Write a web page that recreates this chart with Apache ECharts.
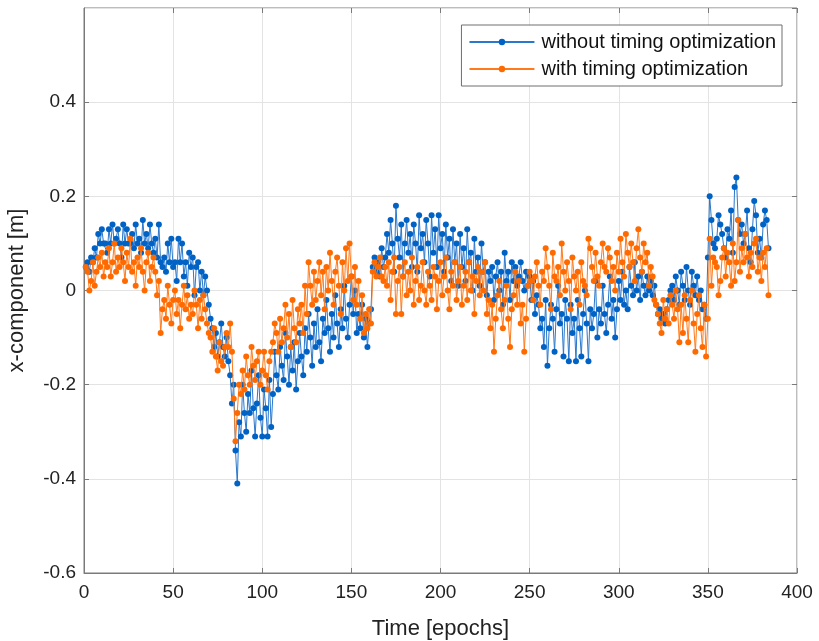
<!DOCTYPE html>
<html>
<head>
<meta charset="UTF-8">
<title>x-component timing</title>
<style>
  body { margin: 0; padding: 0; background: #fff; }
  #main { width: 819px; height: 641px; }
</style>
</head>
<body>
<div id="main"></div>
<script src="https://cdn.jsdelivr.net/npm/echarts@6/dist/echarts.min.js"></script>
<script>
// values, epochs 1..384
var withoutOpt = [
  0.05,0.06,0.04,0.07,0.06,0.09,0.07,0.12,0.10,0.13,
  0.10,0.10,0.08,0.13,0.10,0.14,0.10,0.11,0.13,0.10,
  0.07,0.14,0.10,0.13,0.10,0.10,0.12,0.09,0.14,0.10,
  0.11,0.08,0.15,0.10,0.12,0.09,0.14,0.10,0.08,0.11,
  0.07,0.14,0.06,0.05,0.07,0.04,0.10,0.06,0.11,0.05,
  0.06,0.02,0.11,0.06,0.10,0.03,0.06,0.01,0.08,0.05,
  0.07,-0.01,0.05,0.06,0.00,0.04,-0.01,0.03,0.00,-0.03,
  -0.06,-0.08,-0.12,-0.09,-0.14,-0.11,-0.07,-0.12,-0.14,-0.10,
  -0.15,-0.18,-0.24,-0.20,-0.34,-0.41,-0.28,-0.31,-0.20,-0.26,
  -0.30,-0.22,-0.26,-0.17,-0.25,-0.31,-0.24,-0.18,-0.27,-0.31,
  -0.21,-0.25,-0.31,-0.19,-0.29,-0.22,-0.13,-0.18,-0.21,-0.12,
  -0.16,-0.19,-0.09,-0.14,-0.20,-0.12,-0.17,-0.11,-0.21,-0.15,
  -0.09,-0.14,-0.18,-0.08,-0.13,-0.05,-0.10,-0.16,-0.07,-0.12,
  -0.04,-0.11,-0.15,-0.06,-0.09,-0.02,-0.08,-0.13,-0.05,-0.10,
  -0.01,-0.07,-0.12,-0.04,-0.08,0.01,-0.06,-0.10,-0.03,0.03,
  -0.05,0.00,-0.09,-0.05,-0.08,-0.03,-0.10,-0.06,-0.12,-0.07,
  -0.04,0.05,0.07,0.04,0.06,0.03,0.09,0.05,0.07,0.12,
  0.08,0.15,0.10,0.04,0.18,0.11,0.07,0.14,0.03,0.10,
  0.15,0.08,0.12,0.05,0.14,0.10,0.04,0.16,0.09,0.12,
  0.06,0.15,0.10,0.03,0.16,0.08,0.13,0.05,0.16,0.09,
  0.12,0.04,0.14,0.07,0.11,0.02,0.13,0.06,0.10,0.01,
  0.12,0.05,0.09,0.02,0.13,0.06,0.08,0.00,0.11,0.04,
  0.07,0.01,0.10,0.04,0.06,-0.01,0.04,0.02,0.05,-0.02,
  0.03,0.06,0.00,0.04,-0.03,0.08,0.02,0.04,-0.02,0.06,
  0.02,0.05,0.01,0.03,0.06,0.02,0.00,0.04,0.01,0.03,
  -0.02,0.02,-0.05,-0.01,-0.03,-0.08,-0.06,-0.12,-0.02,-0.16,
  -0.08,-0.03,-0.06,-0.13,-0.04,0.01,-0.07,-0.05,-0.14,-0.02,
  -0.06,-0.15,-0.03,-0.09,-0.06,-0.15,-0.02,-0.08,-0.14,-0.05,
  0.00,-0.07,-0.15,-0.04,-0.08,-0.05,0.02,-0.10,-0.04,-0.07,
  0.01,-0.05,-0.09,-0.03,0.03,-0.06,-0.02,-0.10,-0.04,0.02,
  -0.02,0.04,-0.03,0.00,-0.04,0.05,0.01,-0.01,0.06,0.00,
  0.03,-0.02,0.04,0.01,-0.01,0.03,0.00,0.02,-0.01,0.01,
  -0.03,-0.05,-0.04,-0.06,-0.05,-0.07,-0.04,-0.02,0.00,0.01,
  -0.02,0.03,0.00,-0.03,0.04,0.01,-0.02,0.05,0.00,-0.03,
  0.04,0.01,-0.01,0.03,-0.02,0.00,-0.04,-0.03,-0.06,0.07,
  0.20,0.15,0.10,0.09,0.11,0.16,0.14,0.12,0.09,0.07,
  0.13,0.11,0.17,0.08,0.22,0.24,0.15,0.12,0.14,0.10,
  0.12,0.17,0.09,0.06,0.13,0.19,0.16,0.08,0.11,0.07,
  0.14,0.17,0.15,0.09
];

var withOpt = [
  0.05,0.04,0.00,0.02,0.06,0.01,0.04,0.07,0.05,0.08,
  0.03,0.06,0.05,0.09,0.03,0.06,0.10,0.04,0.07,0.05,
  0.09,0.06,0.02,0.08,0.05,0.11,0.04,0.06,0.01,0.07,
  0.05,0.09,0.04,0.00,0.06,0.08,0.02,0.05,0.07,0.04,
  -0.01,0.02,-0.09,-0.04,-0.02,-0.06,0.01,-0.03,-0.07,-0.02,
  0.00,-0.05,-0.02,-0.08,-0.03,0.01,-0.04,-0.01,-0.06,-0.03,
  -0.05,0.00,-0.03,-0.08,-0.02,-0.06,-0.01,-0.04,-0.07,-0.09,
  -0.10,-0.13,-0.08,-0.14,-0.17,-0.11,-0.15,-0.16,-0.12,-0.09,
  -0.12,-0.07,-0.13,-0.23,-0.32,-0.26,-0.20,-0.22,-0.17,-0.21,
  -0.14,-0.18,-0.20,-0.12,-0.16,-0.19,-0.15,-0.13,-0.20,-0.17,
  -0.13,-0.18,-0.21,-0.15,-0.13,-0.11,-0.07,-0.09,-0.13,-0.06,
  -0.11,-0.08,-0.03,-0.10,-0.05,-0.12,-0.02,-0.08,-0.11,-0.04,
  -0.07,-0.03,-0.09,0.01,-0.05,0.06,0.01,-0.03,0.04,-0.02,
  0.02,0.06,-0.01,0.04,-0.04,0.05,0.00,0.08,0.02,-0.03,
  0.04,0.07,0.01,-0.05,0.06,0.00,0.09,0.02,0.10,0.03,
  -0.02,0.05,-0.03,0.02,-0.06,-0.01,-0.09,-0.05,-0.08,-0.04,
  -0.07,0.04,0.06,0.03,0.05,0.07,0.03,0.02,0.05,0.01,
  0.06,-0.02,0.04,0.07,-0.05,0.02,0.05,-0.05,0.03,0.06,
  -0.01,0.04,0.00,0.07,-0.03,0.02,0.05,-0.02,0.01,0.06,
  0.00,-0.03,0.04,0.01,-0.02,0.05,0.03,-0.04,0.02,0.06,
  -0.01,0.03,0.07,0.00,-0.04,0.04,0.01,0.06,-0.02,0.02,
  0.05,-0.03,0.01,0.04,-0.02,0.06,0.00,0.03,-0.05,0.02,
  0.05,-0.01,0.04,0.00,0.06,-0.05,-0.02,-0.08,-0.03,-0.13,
  -0.06,-0.01,0.02,-0.04,-0.08,-0.02,0.01,-0.06,-0.12,-0.04,
  -0.01,0.04,-0.03,0.02,-0.07,-0.03,-0.13,-0.06,0.01,0.04,
  0.02,-0.02,0.03,0.06,0.01,-0.03,0.04,0.02,0.09,0.05,
  0.01,-0.04,0.08,0.03,0.02,0.05,-0.01,0.10,0.04,0.00,
  0.06,0.02,-0.04,0.07,0.03,0.00,0.04,-0.03,0.06,0.02,
  0.01,-0.01,0.11,0.09,0.05,0.02,0.08,0.03,0.01,0.06,
  0.10,0.05,0.04,0.09,0.07,0.02,0.05,0.00,0.08,0.04,
  0.11,0.06,0.03,0.12,0.08,0.05,0.10,0.06,0.02,0.09,
  0.13,0.07,0.04,0.10,0.06,0.08,0.01,0.05,0.03,-0.02,
  -0.03,-0.05,-0.07,-0.09,-0.02,-0.06,-0.04,-0.07,-0.01,-0.03,
  -0.06,0.00,-0.04,-0.11,-0.03,-0.09,-0.01,-0.06,-0.11,-0.02,
  0.00,-0.07,-0.13,-0.05,-0.01,-0.08,-0.12,-0.03,-0.14,-0.06,
  0.11,0.01,0.07,0.06,0.05,-0.01,0.02,0.07,0.09,0.03,
  0.08,0.06,0.01,0.10,0.02,0.06,0.15,0.04,0.09,0.06,
  0.12,0.07,0.03,0.08,0.05,0.10,0.11,0.04,0.07,0.02,
  0.08,0.05,0.09,-0.01
];

var seriesNames = ['without timing optimization', 'with timing optimization'];

function pairs(arr) {
  return arr.map(function (v, i) { return [i + 1, v]; });
}

var chart = echarts.init(document.getElementById('main'));
var font = 'Liberation Sans, Arial, sans-serif';
var axisGray = '#7a7a7a';

var option = {
  backgroundColor: '#fff',
  animation: false,
  grid: {
    left: 84, right: 22, top: 8, bottom: 68,
    outerBoundsMode: 'none',
    show: true, borderColor: axisGray, borderWidth: 1
  },
  legend: {
    top: 25, right: 37,
    orient: 'vertical',
    backgroundColor: '#fff',
    borderColor: '#6e6e6e', borderWidth: 1,
    padding: [7, 6, 7, 7],
    itemWidth: 65, itemHeight: 8, itemGap: 7,
    textStyle: { fontFamily: font, fontSize: 20, color: '#111', padding: [0, 0, 0, 2] },
    data: seriesNames
  },
  xAxis: [{
    type: 'value', min: 0, max: 400, interval: 50,
    name: 'Time [epochs]', nameLocation: 'middle', nameGap: 45,
    nameTextStyle: { fontFamily: font, fontSize: 22, color: '#222' },
    axisLine: { onZero: false, lineStyle: { color: axisGray } },
    axisTick: { inside: true, length: 5, lineStyle: { color: axisGray } },
    axisLabel: { fontFamily: font, fontSize: 19, color: '#222', margin: 10 },
    splitLine: { show: true, lineStyle: { color: '#e3e3e3' } }
  }, {
    type: 'value', min: 0, max: 400, interval: 50, position: 'top',
    axisLine: { show: false, onZero: false },
    axisTick: { inside: true, length: 5, lineStyle: { color: axisGray } },
    axisLabel: { show: false }, splitLine: { show: false }
  }],
  yAxis: [{
    type: 'value', min: -0.6, max: 0.6, interval: 0.2,
    name: 'x-component [m]', nameLocation: 'middle', nameGap: 56,
    nameTextStyle: { fontFamily: font, fontSize: 22, color: '#222' },
    axisLine: { show: true, onZero: false, lineStyle: { color: axisGray } },
    axisTick: { show: true, inside: true, length: 5, lineStyle: { color: axisGray } },
    axisLabel: {
      fontFamily: font, fontSize: 19, color: '#222', margin: 8, showMaxLabel: false,
      formatter: function (v) {
        var r = Math.round(v * 10) / 10;
        return r === 0 ? '0' : r.toFixed(1);
      }
    },
    splitLine: { show: true, lineStyle: { color: '#e3e3e3' } }
  }, {
    type: 'value', min: -0.6, max: 0.6, interval: 0.2, position: 'right',
    axisLine: { show: false, onZero: false },
    axisTick: { show: true, inside: true, length: 5, lineStyle: { color: axisGray } },
    axisLabel: { show: false }, splitLine: { show: false }
  }],
  series: [{
    name: seriesNames[0], type: 'line',
    data: pairs(withoutOpt),
    symbol: 'circle', symbolSize: 6,
    lineStyle: { width: 1, color: '#2a78cc' },
    itemStyle: { color: '#0062c4' },
    z: 2
  }, {
    name: seriesNames[1], type: 'line',
    data: pairs(withOpt),
    symbol: 'circle', symbolSize: 6,
    lineStyle: { width: 1, color: '#ff7a1a' },
    itemStyle: { color: '#ff6a00' },
    z: 3
  }]
};

chart.setOption(option);
</script>
</body>
</html>
